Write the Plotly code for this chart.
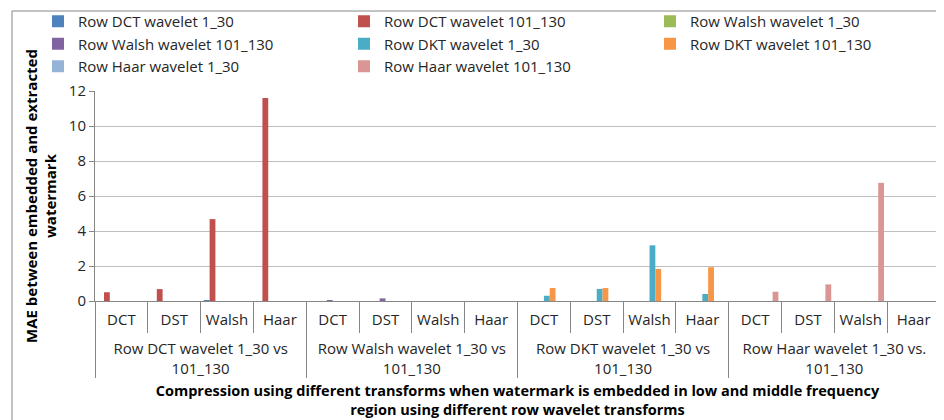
import plotly.graph_objects as go

# category labels
groups = ['Row DCT wavelet 1_30 vs<br>101_130', 'Row Walsh wavelet 1_30 vs<br>101_130',
          'Row DKT wavelet 1_30 vs<br>101_130', 'Row Haar wavelet 1_30 vs.<br>101_130']
transforms = ['DCT', 'DST', 'Walsh', 'Haar']

# series values, 4 transforms per group, groups in order above
dct_1_30 = [0, 0, 0.05, 0, 0, 0, 0, 0, 0, 0, 0, 0, 0, 0, 0, 0]
dct_101_130 = [0.5, 0.68, 4.68, 11.6, 0, 0, 0, 0, 0, 0, 0, 0, 0, 0, 0, 0]
walsh_1_30 = [0, 0, 0, 0, 0, 0, 0, 0, 0, 0, 0, 0, 0, 0, 0, 0]
walsh_101_130 = [0, 0, 0, 0, 0.04, 0.15, 0, 0, 0, 0, 0, 0, 0, 0, 0, 0]
dkt_1_30 = [0, 0, 0, 0, 0, 0, 0, 0, 0.3, 0.69, 3.18, 0.4, 0, 0, 0, 0]
dkt_101_130 = [0, 0, 0, 0, 0, 0, 0, 0, 0.74, 0.74, 1.83, 1.93, 0, 0, 0, 0]
haar_1_30 = [0, 0, 0, 0, 0, 0, 0, 0, 0, 0, 0, 0, 0, 0, 0, 0]
haar_101_130 = [0, 0, 0, 0, 0, 0, 0, 0, 0, 0, 0, 0, 0.53, 0.95, 6.75, 0]

series = [
    ('Row DCT wavelet 1_30', dct_1_30, '#4F81BD'),
    ('Row DCT wavelet 101_130', dct_101_130, '#C0504D'),
    ('Row Walsh wavelet 1_30', walsh_1_30, '#9BBB59'),
    ('Row Walsh wavelet 101_130', walsh_101_130, '#8064A2'),
    ('Row DKT wavelet 1_30', dkt_1_30, '#4BACC6'),
    ('Row DKT wavelet 101_130', dkt_101_130, '#F79646'),
    ('Row Haar wavelet 1_30', haar_1_30, '#95B3D7'),
    ('Row Haar wavelet 101_130', haar_101_130, '#D99694'),
]

# invisible taller spaces around each transform label make that label row taller,
# which pushes the group labels further down (as in the original)
spacer = '<span style="font-size:23px">\u00a0</span>'
x_outer = [g for g in groups for _ in transforms]
x_inner = [spacer + t + spacer for _ in groups for t in transforms]

fig = go.Figure()
for name, vals, color in series:
    fig.add_trace(go.Bar(x=[x_outer, x_inner], y=vals, name=name,
                         marker=dict(color=color, line=dict(width=0))))

# pixel geometry of the plot area
W, H = 944, 420
L, R, T, B = 87, 12, 83, 127
pw, ph = W - L - R, H - T - B


def px(x):
    return (x - L) / pw


def py(y):
    return (H - B - y) / ph


axis_col = '#868686'
text_col = '#262626'
font_name = 'Open Sans'

fig.update_layout(
    width=W, height=H,
    margin=dict(l=L, r=R, t=T, b=B, autoexpand=False),
    paper_bgcolor='white', plot_bgcolor='white',
    font=dict(family=font_name, size=15, color=text_col),
    barmode='group', bargap=0.12, bargroupgap=0,
    showlegend=True,
    legend=dict(orientation='h', x=px(30), xanchor='left', y=py(-3), yanchor='top',
                entrywidth=261, entrywidthmode='pixels', itemwidth=30,
                bgcolor='rgba(0,0,0,0)', tracegroupgap=0,
                font=dict(family=font_name, size=15, color=text_col)),
    xaxis=dict(type='multicategory', showline=True, linecolor=axis_col, linewidth=1,
               ticks='outside', ticklen=31, tickcolor=axis_col, tickson='boundaries',
               ticklabelstandoff=5, tickangle=0,
               showdividers=True, dividercolor=axis_col, dividerwidth=1,
               tickfont=dict(family=font_name, size=15, color=text_col),
               title=dict(text='<b>Compression using different transforms when watermark is embedded in low and middle frequency<br>region using different row wavelet transforms</b>',
                          font=dict(family=font_name, size=14.5, color='black'), standoff=9)),
    yaxis=dict(range=[0, 12], dtick=2, showgrid=True, gridcolor='#bfbfbf', gridwidth=1,
               showline=True, linecolor=axis_col, ticks='outside', ticklen=5, tickcolor=axis_col,
               zeroline=False, tickfont=dict(family=font_name, size=15, color=text_col),
               title=dict(text='<b>MAE between embedded and extracted<br>watermark</b>',
                          font=dict(family=font_name, size=15, color='black'), standoff=8)),
    shapes=[dict(type='rect', xref='paper', yref='paper', x0=px(4), x1=px(960),
                 y0=py(430), y1=py(3), line=dict(color=axis_col, width=1), layer='below')],
)

fig.write_html('out.html')
